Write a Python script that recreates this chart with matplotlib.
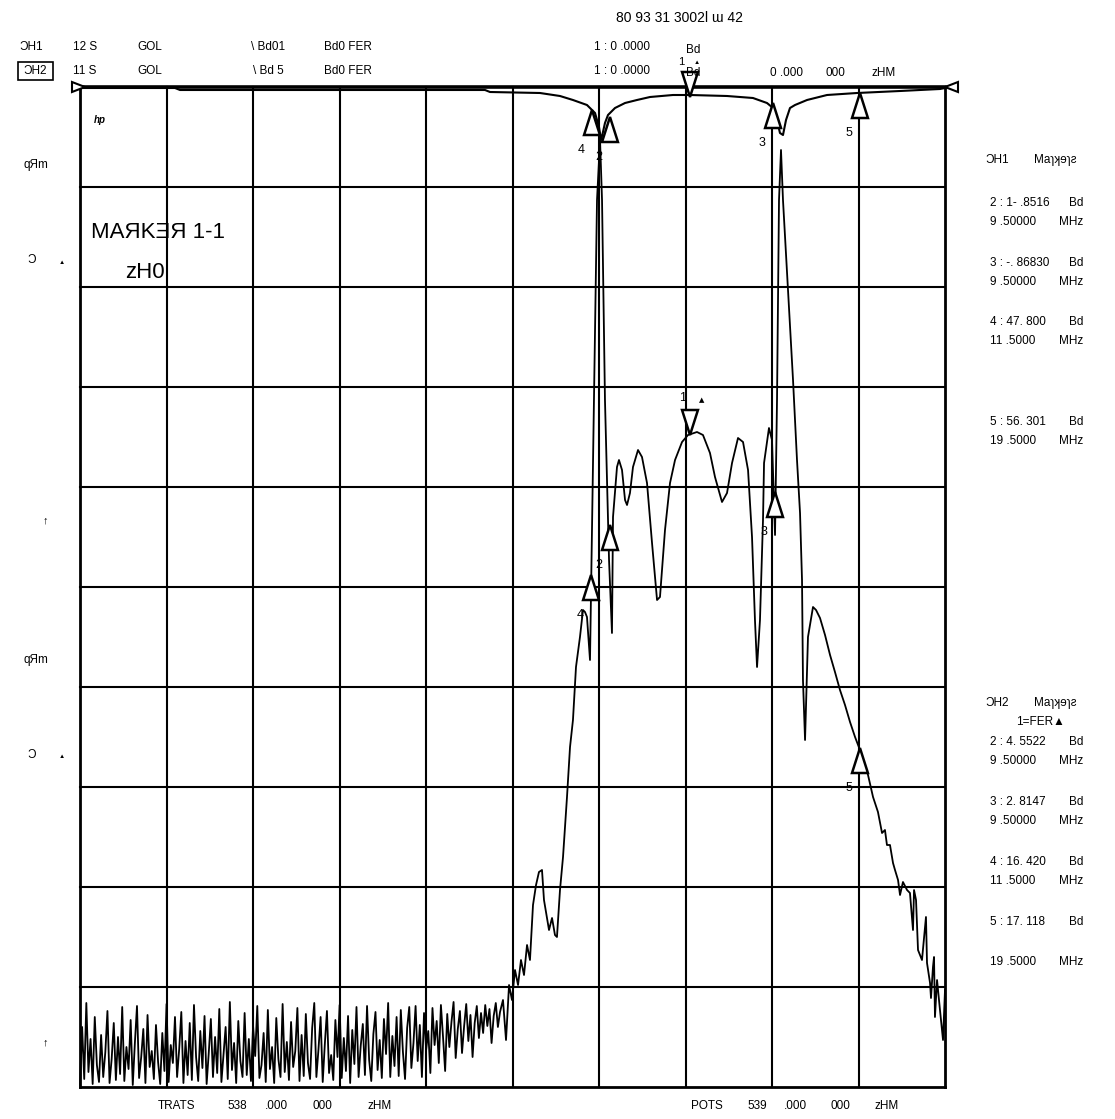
import matplotlib
matplotlib.use("Agg")
import matplotlib.pyplot as plt
from matplotlib.patches import Polygon, Rectangle

W, H = 1115, 1119
# ---------------- data (screen frequency MHz / level dB, 10 dB per division) -------------
# grid: 10 x 10 divisions, x 835..935 MHz, y 0..-100 dB
noise_db = [
    -99.8, -94.0, -99.2, -91.6, -98.5, -95.2, -99.7, -93.0, -97.8, -99.5,
    -94.8, -99.0, -96.5, -92.4, -99.6, -97.2, -93.6, -99.3, -95.0, -98.7,
    -92.0, -99.4, -96.0, -98.2, -93.3, -99.8, -95.6, -91.9, -99.1, -97.0,
    -94.2, -99.6, -92.8, -98.0, -96.4, -99.2, -93.8, -97.5, -99.7, -94.6,
    -98.4, -91.7, -99.5, -95.8, -97.6, -93.0, -99.0, -96.2, -92.5, -99.6,
    -95.4, -98.8, -93.6, -99.3, -91.8, -97.0, -99.4, -94.4, -98.1, -92.9,
    -99.7, -96.6, -93.2, -99.0, -95.0, -98.6, -92.2, -99.5, -96.8, -94.0,
    -99.2, -91.5, -98.3, -95.6, -99.6, -93.4, -97.4, -99.0, -92.6, -98.8,
    -95.2, -99.4, -93.9, -96.9, -91.9, -99.1, -97.8, -94.6, -99.5, -92.3,
    -98.2, -96.0, -99.6, -93.1, -97.2, -99.0, -91.7, -98.5, -95.5, -99.3,
    -93.5, -98.0, -96.4, -92.1, -99.4, -94.8, -98.9, -92.7, -97.6, -99.2,
    -94.1, -91.6, -99.0, -96.2, -93.0, -99.5, -95.7, -92.4, -98.6, -96.8,
    -99.3, -93.3, -97.0, -91.8, -99.1, -95.1, -98.4, -92.9, -99.6, -94.3,
    -97.7, -92.0, -99.0, -95.9, -93.7, -98.8, -91.9, -97.3, -99.4, -94.7,
    -92.5, -98.3, -95.3, -99.1, -93.2, -96.7, -91.6, -99.0, -94.9, -97.9,
    -93.0, -98.9, -92.3, -96.5, -99.2, -94.1, -92.0, -98.1, -95.6, -91.9,
    -97.4, -93.8, -99.0, -92.6, -96.3, -94.4, -98.6, -92.1, -95.8, -93.4,
    -97.6, -91.8, -95.0, -98.4, -92.7, -96.0, -93.5, -91.5, -97.1, -94.2,
    -92.4, -96.6, -93.9, -91.7, -95.4, -92.8, -97.0, -93.6, -91.9, -95.1,
    -92.6, -94.6, -91.8, -93.9, -92.2, -95.6, -92.9, -91.6, -94.0, -92.5]
noise_f0, noise_df = 835.0, 0.244

# lower trace after the noise floor (MHz, dB)
b_freq = [883.90, 884.25, 884.60, 884.94, 885.29, 885.64, 885.98, 886.33, 886.68, 887.02,
          887.37, 887.72, 888.06, 888.41, 888.64, 888.87, 889.22, 889.57, 889.91, 890.14,
          890.49, 890.84, 891.30, 891.65, 891.99, 892.34, 892.80, 893.15, 893.38, 893.61,
          893.96, 894.42, 894.77, 895.12, 895.35, 895.69, 896.16, 896.50, 896.62, 897.08,
          897.31, 897.66, 898.01, 898.24, 898.58, 898.93, 899.51, 899.97, 900.55, 901.13,
          901.71, 902.05, 902.63, 903.21, 903.79, 904.60, 905.29, 906.33, 907.02, 907.83,
          908.41, 909.22, 909.80, 910.38, 911.07, 911.65, 912.23, 912.69, 913.03, 913.27,
          913.61, 913.96, 914.08, 914.65, 915.00, 915.35, 915.58, 915.81, 916.04, 916.27,
          916.85, 917.43, 917.89, 918.24, 918.47, 918.58, 918.82, 919.16, 919.74, 920.09,
          920.55, 921.13, 921.71, 922.28, 922.86, 923.44, 924.02, 924.60, 925.17, 926.10,
          926.68, 927.25, 927.72, 928.06, 928.29, 928.64, 928.99, 929.22, 929.57, 929.80,
          930.14, 930.61, 930.95, 931.30, 931.42, 931.65, 931.88, 932.34, 932.80, 932.92,
          933.27, 933.38, 933.61, 933.73, 933.84, 934.08, 934.19, 934.42, 934.77, 935.00]
b_db = [-91.3, -95.3, -89.8, -91.3, -88.3, -89.8, -87.3, -88.8, -85.8, -87.3,
        -81.8, -79.8, -78.5, -78.3, -81.3, -82.5, -84.3, -83.1, -84.8, -85.0,
        -80.3, -77.0, -71.0, -66.0, -63.3, -58.0, -55.0, -52.3, -52.5, -53.0,
        -57.3, -31.3, -11.3, -5.3, -11.3, -31.3, -47.3, -54.6, -43.0, -38.0,
        -37.3, -38.3, -41.3, -41.8, -40.6, -38.0, -36.3, -37.0, -39.6, -45.6,
        -51.3, -51.0, -44.3, -39.6, -37.3, -35.5, -34.8, -34.5, -34.8, -36.6,
        -39.0, -41.5, -40.6, -37.6, -35.1, -35.5, -38.3, -45.0, -53.3, -58.0,
        -53.3, -43.3, -37.6, -34.1, -35.3, -44.8, -31.3, -11.3, -6.3, -11.3,
        -20.3, -29.3, -37.3, -42.6, -49.3, -59.3, -65.3, -55.0, -52.0, -52.3,
        -53.1, -54.8, -56.8, -58.5, -60.3, -61.8, -63.5, -65.0, -66.3, -68.8,
        -71.0, -72.5, -74.6, -74.3, -75.8, -75.8, -77.6, -78.3, -79.3, -80.8,
        -79.5, -80.3, -80.6, -84.3, -80.3, -81.3, -86.3, -87.3, -83.0, -87.6,
        -89.6, -91.1, -88.0, -87.0, -93.0, -89.3, -90.3, -92.3, -95.3, -90.3]

# upper trace (MHz, dB)
a_freq = [835.0, 845.98, 846.56, 881.82, 882.40, 888.18, 890.49, 891.99, 893.61, 894.54,
          895.00, 895.23, 895.46, 895.69, 896.04, 896.85, 898.01, 899.39, 900.90, 903.55,
          905.52, 909.80, 912.80, 914.42, 915.12, 915.58, 915.92, 916.27, 916.62, 917.08,
          917.66, 919.05, 921.36, 924.83, 929.80, 934.42, 935.0]
a_db = [-0.1, -0.1, -0.3, -0.3, -0.5, -0.6, -0.9, -1.3, -1.8, -2.6,
        -4.0, -5.3, -4.5, -3.6, -2.8, -2.1, -1.6, -1.3, -1.0, -0.8,
        -0.8, -0.9, -1.1, -1.6, -2.1, -3.3, -4.6, -4.8, -3.3, -2.1,
        -1.8, -1.3, -0.8, -0.6, -0.4, -0.2, -0.1]

# markers: (freq MHz, dB, label)
markers_top = [(894.19, -2.3, "4"), (896.27, -3.0, "2"), (915.12, -1.6, "3"), (925.17, -0.6, "5")]
markers_low = [(894.08, -48.8, "4"), (896.27, -43.8, "2"), (915.35, -40.5, "3"), (925.17, -66.1, "5")]
marker1_top = (905.52, -1.0)
marker1_low = (905.52, -34.8)

# ---------------- figure ----------------
fig = plt.figure(figsize=(W / 100, H / 100), dpi=100)
fig.patch.set_facecolor("white")
L, R, T, B = 80, 945, 87, 1087
ax = fig.add_axes([L / W, 1 - B / H, (R - L) / W, (B - T) / H])
ax.set_xlim(835, 935)
ax.set_ylim(-100, 0)
ax.axis("off")
for i in range(11):
    ax.axvline(835 + 10 * i, color="black", lw=2.0 if i in (0, 10) else 1.5, zorder=1,
               clip_on=False)
    ax.axhline(-10 * i, color="black", lw=2.6 if i == 0 else (2.0 if i == 10 else 1.5),
               zorder=1, clip_on=False)

nf = [noise_f0 + noise_df * i for i in range(len(noise_db))]
ax.plot(nf + b_freq, noise_db + b_db, color="black", lw=1.3, zorder=3, clip_on=False)
ax.plot(a_freq, a_db, color="black", lw=1.5, zorder=3)

mw, mh = 0.92, 2.5  # triangle half-width (MHz) and height (dB)
def up_tri(f, d):
    ax.add_patch(Polygon([(f, d), (f - mw, d - mh), (f + mw, d - mh)], closed=True,
                         fc="white", ec="black", lw=1.8, zorder=5))
def down_tri(f, d):
    ax.add_patch(Polygon([(f, d), (f - mw, d + mh), (f + mw, d + mh)], closed=True,
                         fc="white", ec="black", lw=1.8, zorder=5, clip_on=False))

for f, d, lab in markers_top + markers_low:
    up_tri(f, d)
    ax.text(f - 1.25, d - 4.0, lab, fontsize=9, ha="center", va="center", zorder=6,
            family="Liberation Sans")
down_tri(*marker1_top)
down_tri(*marker1_low)
ax.text(marker1_low[0] - 0.9, marker1_low[1] + 3.7, "1", fontsize=9, ha="center", va="center",
        family="Liberation Sans")
ax.text(marker1_low[0] + 1.4, marker1_low[1] + 3.5, "▲", fontsize=5, ha="center", va="center")

# reference-level pointers at both ends of the top line
fig.patches.append(Polygon([(72 / W, 1 - 82 / H), (72 / W, 1 - 92 / H), (85 / W, 1 - 87 / H)],
                           closed=True, fc="white", ec="black", lw=1.5, transform=fig.transFigure))
fig.patches.append(Polygon([(958 / W, 1 - 82 / H), (958 / W, 1 - 92 / H), (945 / W, 1 - 87 / H)],
                           closed=True, fc="white", ec="black", lw=1.5, transform=fig.transFigure))

# ---------------- texts (pixel positions) ----------------
def t(x, y, s, size=9, ha="center", **kw):
    fig.text(x / W, 1 - y / H, s, fontsize=size, ha=ha, va="center",
             family="Liberation Sans", **kw)

t(679, 18, "80 93 31 3002l ɯ 42", 10)
row1 = [(31, "ƆH1"), (85, "12 S"), (150, "GOL"), (268, "\\ Bd01"), (348, "Bd0 FER"), (622, "1 : 0 .0000")]
row2 = [(85, "11 S"), (150, "GOL"), (268, "\\ Bd 5"), (348, "Bd0 FER"), (622, "1 : 0 .0000")]
for x, s in row1:
    t(x, 47, s, 8.5)
for x, s in row2:
    t(x, 71, s, 8.5)
t(35, 71, "ƆH2", 8.5)
fig.patches.append(Rectangle((18 / W, 1 - 80 / H), 35 / W, 18 / H, transform=fig.transFigure,
                             fill=False, ec="black", lw=1.2))
t(693, 50, "Bd", 8.5)
t(681, 62, "1", 8)
t(697, 62, "▲", 4.5)
t(693, 73, "Bd", 8.5)
t(787, 73, "0 .000", 8.5)
t(835, 73, "000", 8.5)
t(884, 73, "zHM", 8.5)

t(100, 120, "hp", 7, weight="bold", style="italic")
t(158, 232, "MAЯKƎЯ 1-1", 16)
t(145, 272, "zH0", 16)

for y0 in (165, 660):
    t(36, y0, "qЯm", 8.5)
    t(32, y0 + 95, "Ɔ", 8.5)
    t(62, y0 + 97, "▲", 4.5)
t(45, 520, "↑", 8, weight="bold")
t(45, 1042, "↑", 8, weight="bold")

# bottom
t(177, 1106, "TRATS", 8.5)
t(237, 1106, "538", 8.5)
t(276, 1106, ".000", 8.5)
t(322, 1106, "000", 8.5)
t(380, 1106, "zHM", 8.5)
t(707, 1106, "POTS", 8.5)
t(757, 1106, "539", 8.5)
t(795, 1106, ".000", 8.5)
t(840, 1106, "000", 8.5)
t(887, 1106, "zHM", 8.5)

# right column readouts
def block(y, left, right):
    t(990, y, left, 8.5, ha="left")
    t(1083, y, right, 8.5, ha="right")

t(997, 160, "ƆH1", 8.5)
t(1055, 160, "Maɿʞɘɿƨ", 8.5)
rows1 = [(203, "2 : 1- .8516", "Bd"), (222, "9 .50000", "MHz"),
         (263, "3 : -. 86830", "Bd"), (282, "9 .50000", "MHz"),
         (322, "4 : 47. 800", "Bd"), (341, "11 .5000", "MHz"),
         (422, "5 : 56. 301", "Bd"), (441, "19 .5000", "MHz")]
for y, a, b in rows1:
    block(y, a, b)
t(997, 703, "ƆH2", 8.5)
t(1055, 703, "Maɿʞɘɿƨ", 8.5)
t(1040, 722, "1=FER▲", 8.5)
rows2 = [(742, "2 : 4. 5522", "Bd"), (761, "9 .50000", "MHz"),
         (802, "3 : 2. 8147", "Bd"), (821, "9 .50000", "MHz"),
         (862, "4 : 16. 420", "Bd"), (881, "11 .5000", "MHz"),
         (922, "5 : 17. 118", "Bd"), (962, "19 .5000", "MHz")]
for y, a, b in rows2:
    block(y, a, b)

fig.savefig("out.png", dpi=100, facecolor="white")
